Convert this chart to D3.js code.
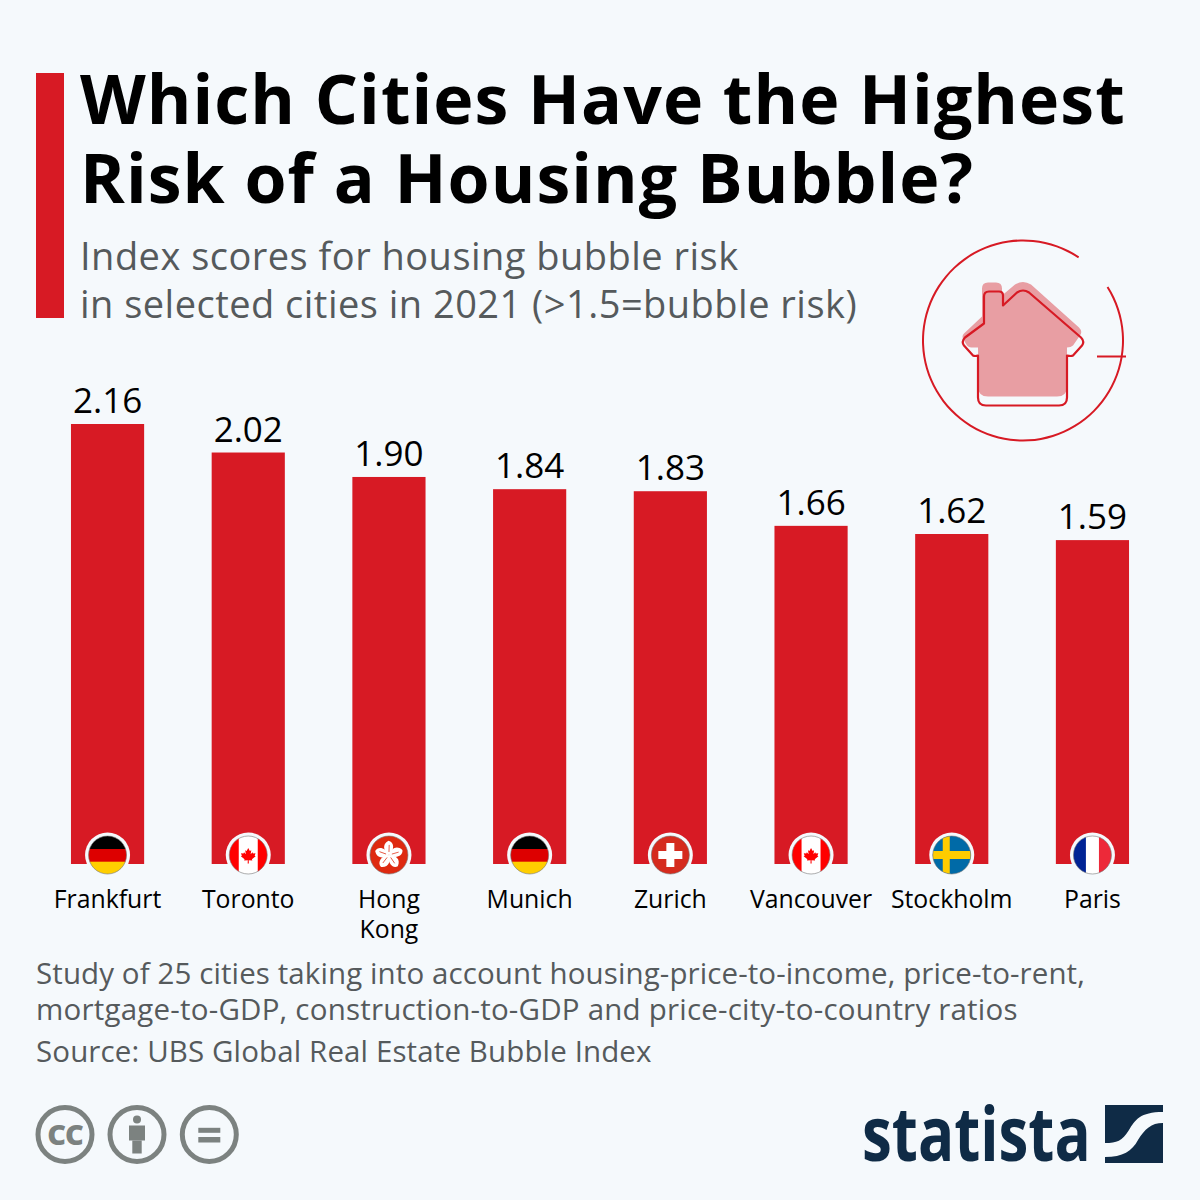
<!DOCTYPE html>
<html>
<head>
<meta charset="utf-8">
<script src="https://cdn.jsdelivr.net/npm/d3@7"></script>
<style>
  html, body { margin: 0; padding: 0; background: #f5f9fc; }
  svg { display: block; font-family: "Open Sans", sans-serif; }
</style>
</head>
<body>
<svg id="chart" width="1200" height="1200"></svg>
<script>
const cities = ["Frankfurt", "Toronto", "Hong Kong", "Munich", "Zurich", "Vancouver", "Stockholm", "Paris"];
const scores = [2.16, 2.02, 1.90, 1.84, 1.83, 1.66, 1.62, 1.59];
const flags = ["de", "ca", "hk", "de", "ch", "ca", "se", "fr"];
const titleLines = ["Which Cities Have the Highest", "Risk of a Housing Bubble?"];
const subtitleLines = ["Index scores for housing bubble risk", "in selected cities in 2021 (>1.5=bubble risk)"];
const noteLines = [
  "Study of 25 cities taking into account housing-price-to-income, price-to-rent,",
  "mortgage-to-GDP, construction-to-GDP and price-city-to-country ratios"
];
const sourceLine = "Source: UBS Global Real Estate Bubble Index";

const RED = "#d71a24";
const svg = d3.select("#chart");
svg.append("rect").attr("width", 1200).attr("height", 1200).attr("fill", "#f5f9fc");

// header
svg.append("rect").attr("x", 36).attr("y", 73).attr("width", 28).attr("height", 245).attr("fill", RED);
svg.append("g").selectAll("text").data(titleLines).join("text")
  .attr("x", 80).attr("y", (d, i) => 124 + i * 78.5)
  .attr("font-size", 68).attr("font-weight", 700).attr("letter-spacing", 1.04).attr("fill", "#000")
  .text(d => d);
svg.append("g").selectAll("text").data(subtitleLines).join("text")
  .attr("x", 80).attr("y", (d, i) => 270 + i * 48)
  .attr("font-size", 38).attr("letter-spacing", 0.48).attr("fill", "#555a5c")
  .text(d => d);

// scales
const x = d3.scaleBand().domain(d3.range(cities.length)).range([37.2, 1162.8])
  .paddingInner(0.48).paddingOuter(0.24);
const y = d3.scaleLinear().domain([0, 2.16]).range([864, 424]);

// bars
svg.append("g").selectAll("rect").data(scores).join("rect")
  .attr("x", (d, i) => x(i)).attr("y", d => y(d))
  .attr("width", x.bandwidth()).attr("height", d => y(0) - y(d))
  .attr("fill", RED);

// value labels
svg.append("g").selectAll("text").data(scores).join("text")
  .attr("x", (d, i) => x(i) + x.bandwidth() / 2).attr("y", d => y(d) - 11)
  .attr("text-anchor", "middle").attr("font-size", 35).attr("fill", "#000")
  .text(d => d.toFixed(2));

// category labels, Hong Kong breaks on two lines
const labels = svg.append("g").selectAll("text").data(cities).join("text")
  .attr("text-anchor", "middle").attr("font-size", 24.8).attr("fill", "#000");
labels.each(function (d, i) {
  const cx = x(i) + x.bandwidth() / 2;
  const words = d === "Hong Kong" ? d.split(" ") : [d];
  d3.select(this).selectAll("tspan").data(words).join("tspan")
    .attr("x", cx).attr("y", (w, j) => 908 + j * 30).text(w => w);
});

// flags
const leaf = "M0,-12 L2.4,-7.5 L4.6,-8.7 L3.6,-2.8 L6.4,-5.6 L7.2,-3.6 L11,-4.3 L9.7,-0.4 L11.2,0.5 L5.6,5 L6.2,7 L0.7,6.3 L0.9,11.5 L-0.9,11.5 L-0.7,6.3 L-6.2,7 L-5.6,5 L-11.2,0.5 L-9.7,-0.4 L-11,-4.3 L-7.2,-3.6 L-6.4,-5.6 L-3.6,-2.8 L-4.6,-8.7 L-2.4,-7.5 Z";
const defs = svg.append("defs");
defs.append("clipPath").attr("id", "flagClip").append("circle").attr("r", 19);
const rect = (g, px, py, w, h, fill) => g.append("rect").attr("x", px).attr("y", py).attr("width", w).attr("height", h).attr("fill", fill);
const drawFlag = {
  de(g) {
    rect(g, -20, -20, 40, 14, "#000");
    rect(g, -20, -6, 40, 13, "#dd0000");
    rect(g, -20, 6.7, 40, 14, "#ffce00");
  },
  ca(g) {
    rect(g, -20, -20, 40, 40, "#fff");
    rect(g, -20, -20, 10.5, 40, "#f00");
    rect(g, 9.5, -20, 10.5, 40, "#f00");
    g.append("path").attr("d", leaf).attr("fill", "#f00").attr("transform", "translate(0,1) scale(0.66)");
  },
  hk(g) {
    rect(g, -20, -20, 40, 40, "#de2910");
    d3.range(5).forEach(k => {
      g.append("path").attr("d", "M0,0 C-6,-3 -9,-9 -3,-14 C3,-14 5,-6 0,0 Z")
        .attr("fill", "#fff").attr("transform", `rotate(${k * 72 + 10})`);
      g.append("path").attr("d", "M-0.5,-3 L-1.5,-10").attr("stroke", "#de2910").attr("stroke-width", 0.7)
        .attr("transform", `rotate(${k * 72 + 10})`);
    });
  },
  ch(g) {
    rect(g, -20, -20, 40, 40, "#d52b1e");
    rect(g, -4, -12, 8, 24, "#fff");
    rect(g, -12, -4, 24, 8, "#fff");
  },
  se(g) {
    rect(g, -20, -20, 40, 40, "#006aa7");
    rect(g, -9, -20, 7, 40, "#fecc00");
    rect(g, -20, -4, 40, 8, "#fecc00");
  },
  fr(g) {
    rect(g, -20, -20, 13.5, 40, "#002395");
    rect(g, -6.5, -20, 13, 40, "#fff");
    rect(g, 6.5, -20, 13.5, 40, "#ed2939");
  }
};
flags.forEach((f, i) => {
  const g = svg.append("g").attr("transform", `translate(${x(i) + x.bandwidth() / 2},855)`);
  g.append("circle").attr("r", 22.5).attr("fill", "#f5f9fc");
  drawFlag[f](g.append("g").attr("clip-path", "url(#flagClip)"));
  g.append("circle").attr("r", 19).attr("fill", "none").attr("stroke", "#777").attr("stroke-width", 0.6);
});

// house icon
const icon = svg.append("g").attr("transform", "translate(1023,340.5)");
const ring = d3.arc().innerRadius(99).outerRadius(101);
icon.append("path").attr("fill", RED).attr("d", ring({ startAngle: 1.007, endAngle: Math.PI * 2 + 0.59 }));
icon.append("rect").attr("x", 74).attr("y", 15).attr("width", 29).attr("height", 2).attr("fill", RED);
icon.append("path")
  .attr("d", "M-41,-52 Q-41,-58 -35,-58 L-27,-58 Q-21,-58 -21,-52 L-21,-45 L-8,-56 Q0,-61 8,-56 L56,-13 Q60,-9 57,-5 L50,5 Q48,7 44,7 L44,46 Q44,56 34,56 L-35,56 Q-45,56 -45,46 L-45,7 L-52,7 Q-54,7 -56,5 L-59,0 Q-62,-4 -59,-7 L-41,-24 Z")
  .attr("fill", "#e89ea3");
icon.append("path")
  .attr("d", "M-39,-44 Q-39,-49 -34,-49 L-24,-49 Q-20,-49 -20,-45 L-20,-35 L-6,-48 Q0,-52 6,-48 L58,-3 Q62,1 59,5 L50,15 Q48,16 44,15 L44,57 Q44,65 36,65 L-37,65 Q-45,65 -45,57 L-45,15 Q-48,16 -50,15 L-59,5 Q-62,1 -58,-3 L-39,-17 Z")
  .attr("fill", "none").attr("stroke", RED).attr("stroke-width", 2.2).attr("stroke-linejoin", "round");

// footnotes
const noteSpacing = [0.1, 0.21];
svg.append("g").selectAll("text").data(noteLines).join("text")
  .attr("x", 36).attr("y", (d, i) => 984 + i * 36)
  .attr("font-size", 29.5).attr("letter-spacing", (d, i) => noteSpacing[i]).attr("fill", "#555a5c").text(d => d);
svg.append("text").attr("x", 36).attr("y", 1062)
  .attr("font-size", 29.5).attr("letter-spacing", 0.12).attr("fill", "#555a5c").text(sourceLine);

// licence icons
const GREY = "#7c8280";
[65, 137, 209.3].forEach((cx, i) => {
  const g = svg.append("g").attr("transform", `translate(${cx},1134.5)`);
  g.append("circle").attr("r", 27).attr("fill", "none").attr("stroke", GREY).attr("stroke-width", 5);
  if (i === 0) {
    g.append("text").attr("text-anchor", "middle").attr("y", 10).attr("font-size", 29)
      .attr("font-weight", 800).attr("letter-spacing", -1).attr("fill", GREY).text("CC");
  } else if (i === 1) {
    g.append("circle").attr("cy", -15).attr("r", 4).attr("fill", GREY);
    rect(g, -8, -9, 16, 15, GREY);
    rect(g, -4.7, 6, 9.4, 13, GREY);
  } else {
    rect(g, -11, -6.7, 22, 5, GREY);
    rect(g, -11, 2.5, 22, 5.5, GREY);
  }
});

// statista logo
const NAVY = "#0f2b46";
svg.append("text").attr("transform", "translate(862,1161) scale(0.79,1)")
  .attr("font-size", 76).attr("font-weight", 700).attr("fill", NAVY).text("statista");
const logo = svg.append("g").attr("transform", "translate(1105,1105)");
logo.append("path").attr("fill", NAVY).attr("d", "M0,0 L58,0 L58,7 C35,7 30,15 24,25 C17,36 12,38 0,38 Z");
logo.append("path").attr("fill", NAVY).attr("d", "M58,18 L58,58 L0,58 L0,52 C18,52 27,46 33,35 C40,24 46,18 58,18 Z");
</script>
</body>
</html>
